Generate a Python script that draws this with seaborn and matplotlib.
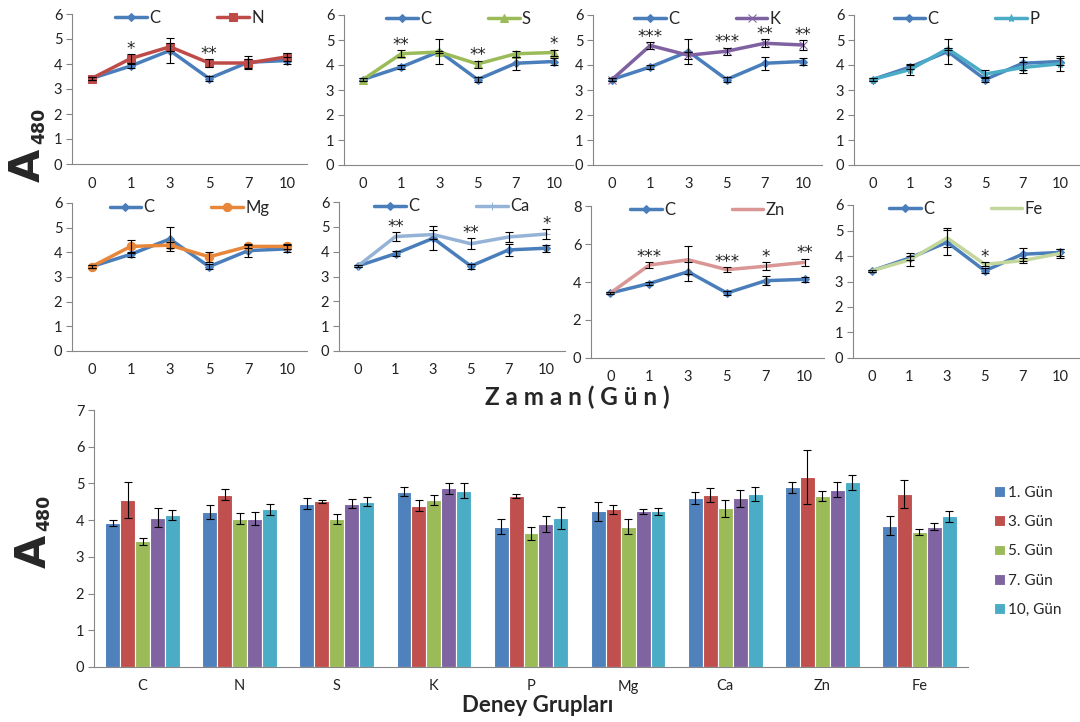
import numpy as np
import pandas as pd
import matplotlib
matplotlib.use("Agg")
import matplotlib.pyplot as plt
import seaborn as sns

# veriler

days = ["0", "1", "3", "5", "7", "10"]
gun_labels = ["1. Gün", "3. Gün", "5. Gün", "7. Gün", "10, Gün"]
groups = ["C", "N", "S", "K", "P", "Mg", "Ca", "Zn", "Fe"]

start_val = 3.42   # 0. gün, tüm gruplar
start_err = 0.05

c_vals = [3.92, 4.54, 3.42, 4.07, 4.14]
c_err = [0.09, 0.49, 0.10, 0.25, 0.14]

n_vals = [4.22, 4.69, 4.04, 4.04, 4.29]
n_err = [0.18, 0.15, 0.15, 0.18, 0.15]
n_stars = ["*", "", "**", "", ""]

s_vals = [4.45, 4.52, 4.04, 4.45, 4.50]
s_err = [0.14, 0.04, 0.14, 0.12, 0.12]
s_stars = ["**", "", "**", "", "*"]

k_vals = [4.78, 4.39, 4.55, 4.87, 4.80]
k_err = [0.12, 0.15, 0.14, 0.15, 0.20]
k_stars = ["***", "", "***", "**", "**"]

p_vals = [3.82, 4.65, 3.64, 3.90, 4.05]
p_err = [0.21, 0.05, 0.17, 0.21, 0.30]
p_stars = ["", "", "", "", ""]

mg_vals = [4.24, 4.29, 3.82, 4.24, 4.24]
mg_err = [0.25, 0.11, 0.20, 0.07, 0.10]
mg_stars = ["", "", "", "", ""]

ca_vals = [4.61, 4.69, 4.32, 4.59, 4.71]
ca_err = [0.17, 0.19, 0.23, 0.22, 0.19]
ca_stars = ["**", "", "**", "", "*"]

zn_vals = [4.89, 5.17, 4.65, 4.83, 5.03]
zn_err = [0.15, 0.74, 0.14, 0.20, 0.20]
zn_stars = ["***", "", "***", "*", "**"]

fe_vals = [3.85, 4.71, 3.67, 3.82, 4.10]
fe_err = [0.26, 0.37, 0.08, 0.10, 0.16]
fe_stars = ["", "", "*", "", ""]

c_color = "#4A7EBB"
bar_colors = ["#4F81BD", "#C0504D", "#9BBB59", "#8064A2", "#4BACC6"]
axis_gray = "#868686"

sns.set_style("white")
plt.rcParams["font.family"] = ["Lato", "DejaVu Sans"]

fig = plt.figure(figsize=(10.8, 7.22), dpi=100)
W, H = 1080, 722


def px_axes(x0, x1, ytop, ybot):
    return fig.add_axes([x0 / W, 1 - ybot / H, (x1 - x0) / W, (ybot - ytop) / H])


def style_axis(ax, n, ymax, ystep, labels):
    ax.set_xlim(-0.5, n - 0.5)
    ax.set_ylim(0, ymax)
    ax.set_yticks(np.arange(0, ymax + 0.01, ystep))
    ax.set_xticks(np.arange(-0.5, n, 1))
    ax.set_xticklabels([])
    ax.set_xticks(np.arange(n), minor=True)
    ax.set_xticklabels(labels, minor=True)
    ax.tick_params(axis="x", which="major", length=5, direction="out", color=axis_gray, width=0.8)
    ax.tick_params(axis="x", which="minor", length=0, pad=9, labelsize=10.5, colors="#222222")
    ax.tick_params(axis="y", length=4, direction="out", color=axis_gray, width=0.8,
                   pad=3, labelsize=10.5, labelcolor="#222222", left=True)
    for side in ["top", "right"]:
        ax.spines[side].set_visible(False)
    for side in ["left", "bottom"]:
        ax.spines[side].set_color(axis_gray)
        ax.spines[side].set_linewidth(0.8)
    ax.set_xlabel("")
    ax.set_ylabel("")


def line_panel(ax, name, vals, errs, stars, color, marker, ymax=6, ystep=1):
    pos = np.arange(len(days))
    c_full = [start_val] + c_vals
    c_efull = [start_err] + c_err
    t_full = [start_val] + vals
    t_efull = [start_err] + errs
    sns.lineplot(x=pos, y=c_full, color=c_color, marker="D", markersize=4.5,
                 markeredgecolor=c_color, linewidth=2.5, label="C", ax=ax)
    sns.lineplot(x=pos, y=t_full, color=color, marker=marker, markersize=6,
                 markeredgecolor=color, linewidth=2.5, label=name, ax=ax)
    ax.errorbar(pos, c_full, yerr=c_efull, fmt="none", ecolor="black",
                elinewidth=0.8, capsize=3, capthick=0.8, zorder=4)
    ax.errorbar(pos, t_full, yerr=t_efull, fmt="none", ecolor="black",
                elinewidth=0.8, capsize=3, capthick=0.8, zorder=4)
    off = 0.035 * ymax
    for p, v, e, s in zip(pos[1:], vals, errs, stars):
        if s:
            ax.text(p, v + e + off, s, ha="center", va="center", fontsize=12,
                    color="#222222", family="DejaVu Sans")
    style_axis(ax, len(days), ymax, ystep, days)
    ax.legend(loc="upper center", bbox_to_anchor=(0.5, 1.125), ncol=2, frameon=False,
              handlelength=1.9, handletextpad=0.15, columnspacing=3.4, fontsize=12)


panels = [
    ("N", n_vals, n_err, n_stars, "#BE4B48", "s", (72, 307, 14, 164), 6, 1),
    ("S", s_vals, s_err, s_stars, "#9BBB59", "^", (344, 573, 15, 165), 6, 1),
    ("K", k_vals, k_err, k_stars, "#7F60A0", "x", (593, 822, 15, 165), 6, 1),
    ("P", p_vals, p_err, p_stars, "#4BACC6", "*", (854, 1079, 15, 165), 6, 1),
    ("Mg", mg_vals, mg_err, mg_stars, "#E8863A", "o", (72, 307, 203, 351), 6, 1),
    ("Ca", ca_vals, ca_err, ca_stars, "#95B3D7", "+", (339, 565, 202, 351), 6, 1),
    ("Zn", zn_vals, zn_err, zn_stars, "#D99694", None, (591, 824, 206, 358), 8, 2),
    ("Fe", fe_vals, fe_err, fe_stars, "#C3D69B", None, (853, 1079, 205, 358), 6, 1),
]

for name, vals, errs, stars, color, marker, box, ymax, ystep in panels:
    ax = px_axes(*box)
    line_panel(ax, name, vals, errs, stars, color, marker, ymax, ystep)

# alt grafik: deney gruplari

all_vals = [c_vals, n_vals, s_vals, k_vals, p_vals, mg_vals, ca_vals, zn_vals, fe_vals]
all_errs = [c_err, n_err, s_err, k_err, p_err, mg_err, ca_err, zn_err, fe_err]

rows = []
for g, vals, errs in zip(groups, all_vals, all_errs):
    for lab, v, e in zip(gun_labels, vals, errs):
        rows.append({"grup": g, "gun": lab, "A": v, "err": e})
df_bar = pd.DataFrame(rows)

axb = px_axes(94, 968, 410, 667)
sns.barplot(data=df_bar, x="grup", y="A", hue="gun", order=groups, hue_order=gun_labels,
            palette=bar_colors, width=0.77, edgecolor="white", linewidth=0.8,
            errorbar=None, saturation=1, ax=axb)

for cont, lab in zip(axb.containers, gun_labels):
    sub = df_bar[df_bar["gun"] == lab].set_index("grup").loc[groups]
    xs = [b.get_x() + b.get_width() / 2 for b in cont]
    hs = [b.get_height() for b in cont]
    axb.errorbar(xs, hs, yerr=sub["err"].values, fmt="none", ecolor="black",
                 elinewidth=0.8, capsize=3, capthick=0.8, zorder=4)

style_axis(axb, len(groups), 7, 1, groups)
axb.legend(loc="center left", bbox_to_anchor=(1.03, 0.45), frameon=False,
           handlelength=0.7, handleheight=0.7, handletextpad=0.2,
           labelspacing=1.0, fontsize=11, borderaxespad=0, borderpad=0)

# eksen basliklari

for xa, ya, x4, y4 in [(0.026, 0.771, 0.036, 0.826), (0.031, 0.236, 0.041, 0.289)]:
    fig.text(xa, ya, "A", fontsize=31, fontweight="bold", rotation=90,
             ha="center", va="center", family="DejaVu Sans")
    fig.text(x4, y4, "480", fontsize=12.5, fontweight="bold", rotation=90,
             ha="center", va="center", family="DejaVu Sans")

fig.text(577 / W, 1 - 397 / H, "Z a m a n ( G ü n )", fontsize=17.5, fontweight="bold",
         ha="center", va="center")
fig.text(538 / W, 1 - 706 / H, "Deney Grupları", fontsize=16, fontweight="bold",
         ha="center", va="center")

fig.savefig("out.png", dpi=100)
